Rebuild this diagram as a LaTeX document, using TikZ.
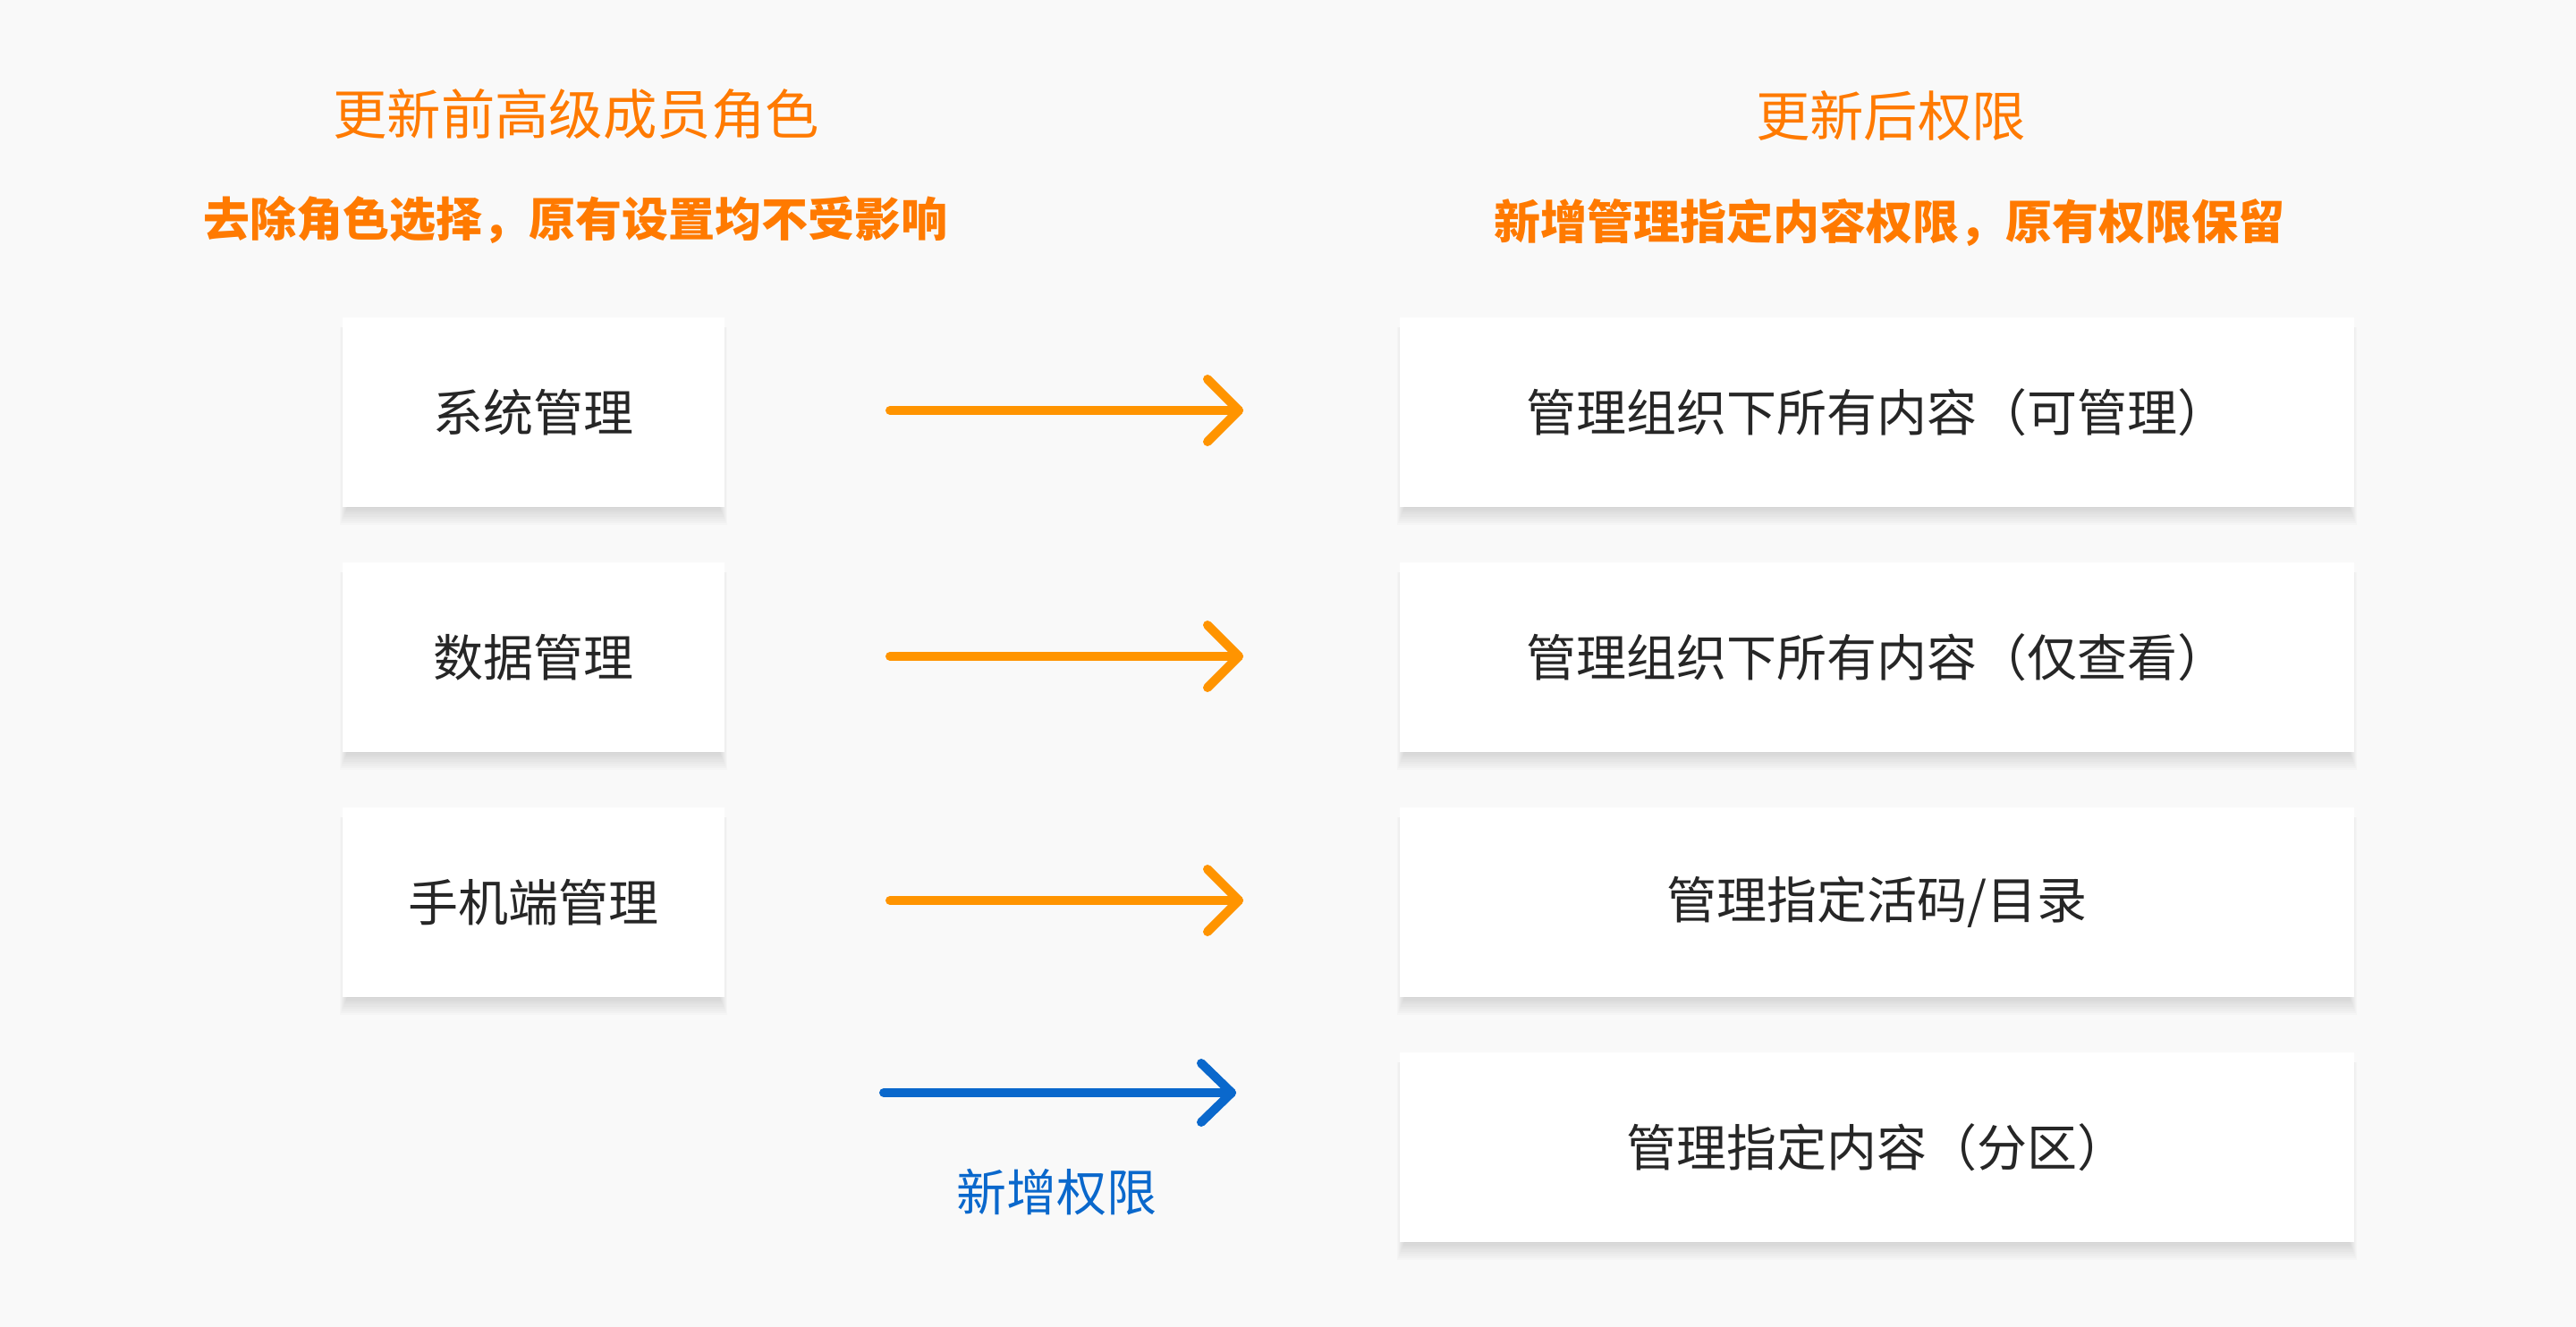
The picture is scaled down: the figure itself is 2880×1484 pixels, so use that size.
\documentclass[tikz,border=0pt]{standalone}
\usepackage{fontspec}
\setmainfont{Noto Sans CJK SC}
\pgfdeclarelayer{bglayer}
\pgfdeclarelayer{shadowlayer}
\pgfsetlayers{bglayer,shadowlayer,main}
\definecolor{bgc}{HTML}{F9F9F9}
\definecolor{ttlc}{HTML}{FF7A00}
\definecolor{arrc}{HTML}{FF9400}
\definecolor{bluec}{HTML}{0A68CC}
\definecolor{txtc}{HTML}{262626}
\tikzset{
  card/.style={fill=white, draw=none, minimum height=53pt, inner sep=0pt,
    text=txtc, font=\fontsize{14pt}{16pt}\selectfont},
  lcard/.style={card, minimum width=106.75pt},
  rcard/.style={card, minimum width=266.75pt},
  shadowstep/.style={fill=black, fill opacity=0.016, draw=none},
  ttl/.style={text=ttlc, inner sep=0pt, font=\fontsize{15.1pt}{18pt}\selectfont},
  sub/.style={text=ttlc, inner sep=0pt, font=\fontsize{13pt}{15pt}\selectfont\bfseries},
  oline/.style={draw=arrc, line width=2.5pt, line cap=round, line join=round},
  bline/.style={draw=bluec, line width=2.5pt, line cap=round, line join=round},
}
\begin{document}
\begin{tikzpicture}[x=0.25pt, y=-0.25pt]
\begin{pgfonlayer}{bglayer}
\fill[bgc] (0,0) rectangle (2880,1484);
\end{pgfonlayer}
\useasboundingbox (0,0) rectangle (2880,1484);
% titles
\node[ttl] (t1) at (644,128) {更新前高级成员角色};
\node[sub] (s1) at (643,246) {去除角色选择，原有设置均不受影响};
\node[ttl] (t2) at (2114,130) {更新后权限};
\node[sub] (s2) at (2112,249) {新增管理指定内容权限，原有权限保留};
% left cards
\node[lcard] (l1) at (596.5,461) {系统管理};
\node[lcard] (l2) at (596.5,735) {数据管理};
\node[lcard] (l3) at (596.5,1009) {手机端管理};
% right cards
\node[rcard] (r1) at (2098.5,461) {管理组织下所有内容（可管理）};
\node[rcard] (r2) at (2098.5,735) {管理组织下所有内容（仅查看）};
\node[rcard] (r3) at (2098.5,1009) {管理指定活码/目录};
\node[rcard] (r4) at (2098.5,1283) {管理指定内容（分区）};
% soft shadows
\begin{pgfonlayer}{shadowlayer}
\foreach \n in {l1,l2,l3,r1,r2,r3,r4}{
  \foreach \k in {1,...,9}{
    \fill[shadowstep] ([xshift=1.8pt-0.25*\k pt, yshift=0.5pt-0.6*\k pt]\n.south west)
      rectangle ([xshift=0.25*\k pt-1.8pt, yshift=-3pt]\n.north east);
  }
}
\end{pgfonlayer}
% arrows
\coordinate (a1s) at (995,459); \coordinate (a1t) at (1385,459);
\coordinate (a2s) at (995,734); \coordinate (a2t) at (1385,734);
\coordinate (a3s) at (995,1007); \coordinate (a3t) at (1385,1007);
\coordinate (a4s) at (988,1222); \coordinate (a4t) at (1377,1222);
\foreach \i in {1,2,3}{
  \draw[oline] (a\i s) -- (a\i t);
  \draw[oline] (a\i t) ++(-35,-35) -- (a\i t) -- ++(-35,35);
}
\draw[bline] (a4s) -- (a4t);
\draw[bline] (a4t) ++(-34,-33) -- (a4t) -- ++(-34,33);
\node[text=bluec, inner sep=0pt, font=\fontsize{14pt}{16pt}\selectfont] (lbl) at (1181,1333) {新增权限};
\end{tikzpicture}
\end{document}
